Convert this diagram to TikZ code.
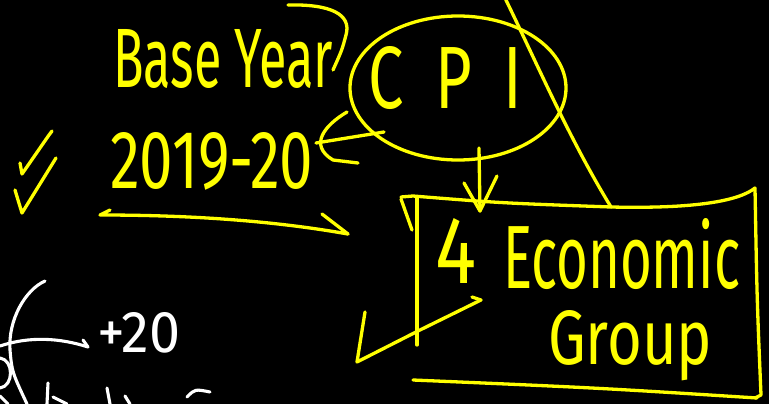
\documentclass[tikz,border=0pt]{standalone}
\usepackage{fontspec}
\setmainfont{Fira Sans}
\usetikzlibrary{shapes.geometric}
\definecolor{hy}{RGB}{255,255,0}
\begin{document}
\begin{tikzpicture}[x=1pt,y=-1pt,
  ink/.style={draw=hy, line width=3.3pt, line cap=round, line join=round},
  chalk/.style={draw=white, line width=3.1pt, line cap=round, line join=round},
  word/.style={text=hy, inner sep=0pt, anchor=base west},
  wword/.style={text=white, inner sep=0pt, anchor=base west}]
\fill[black] (0,0) rectangle (769,404);
\useasboundingbox (0,0) rectangle (769,404);

% texts
\node[word] (base) at (113,88) {\resizebox{220pt}{58pt}{Base Year}};
\node[word] (year) at (110,188) {\resizebox{203pt}{56pt}{2019-20}};
\node[word] (cpitxt) at (368,108) {\resizebox{154pt}{62pt}{C\hspace{0.5em}P\hspace{0.5em}I}};
\node[word] (four) at (435,283) {\resizebox{41pt}{65pt}{4}};
\node[word] (econ) at (503,288) {\resizebox{237pt}{70pt}{Economic}};
\node[word] (grp) at (548,364) {\resizebox{164pt}{54pt}{Group}};
\node[wword] (plus) at (97,352) {\resizebox{83pt}{40pt}{+20}};

% CPI ellipse
\node[ellipse, ink, minimum width=216pt, minimum height=144pt] (cpi) at (458,88) {};

% bracket stroke above
\draw[ink] (288,5) .. controls (330,4) and (352,14) .. (346,35) .. controls (342,50) .. (333,70);

% check marks
\draw[ink] (20,163) -- (22,174) -- (49,135) -- (52,131);
\draw[ink] (15,190) .. controls (18,200) .. (22,213) -- (56,158);

% arrow under the year
\coordinate (ya) at (100,215);
\coordinate (yb) at (348,234);
\draw[ink] (110,210) -- (ya) .. controls (200,215) and (280,222) .. (yb);
\draw[ink] (322,214) -- (yb);

% arrow from CPI to year
\coordinate (ca) at (384,132);
\coordinate (cb) at (316,143);
\draw[ink] (ca) -- (cb);
\draw[ink] (347,112) .. controls (325,125) and (308,145) .. (333,160) -- (358,163);

% arrow from CPI down to box
\coordinate (da) at (479,148);
\coordinate (db) at (480,211);
\draw[ink] (da) -- (db);
\draw[ink] (464,183) -- (db) -- (497,176);

% long diagonal line
\draw[ink] (505,-2) .. controls (540,70) and (570,140) .. (611,207);

% box
\draw[ink] (401,197) -- (413,196) .. controls (500,203) .. (611,207) .. controls (700,209) and (740,200) .. (755,188);
\draw[ink] (401,199) -- (412,230);
\draw[ink] (417,197) -- (417,345);
\draw[ink] (755,188) .. controls (757,300) .. (761,395) -- (755,398);
\draw[ink] (413,380) .. controls (600,388) .. (757,398);

% arrow from lower left into box
\coordinate (la) at (365,312);
\coordinate (lb) at (481,300);
\draw[ink] (la) -- (357,362) -- (420,330) -- (lb);
\draw[ink] (472,297) -- (lb);

% white strokes, bottom left
\draw[chalk] (45,281) .. controls (25,290) and (8,320) .. (10,350) .. controls (12,372) .. (27,404);
\coordinate (wa) at (0,346);
\coordinate (wb) at (88,347);
\draw[chalk] (wa) .. controls (30,336) and (60,338) .. (wb);
\draw[chalk] (83,340) -- (wb);
\draw[chalk] (0,358) .. controls (14,360) and (14,386) .. (0,388);
\draw[chalk] (0,396) -- (8,404);
\draw[chalk] (48,383) -- (47,404);
\draw[chalk] (53,397) -- (67,404);
\draw[chalk] (107,388) -- (110,404);
\draw[chalk] (125,396) -- (130,404);
\draw[chalk] (187,397) .. controls (195,389) .. (210,392);
\end{tikzpicture}
\end{document}
